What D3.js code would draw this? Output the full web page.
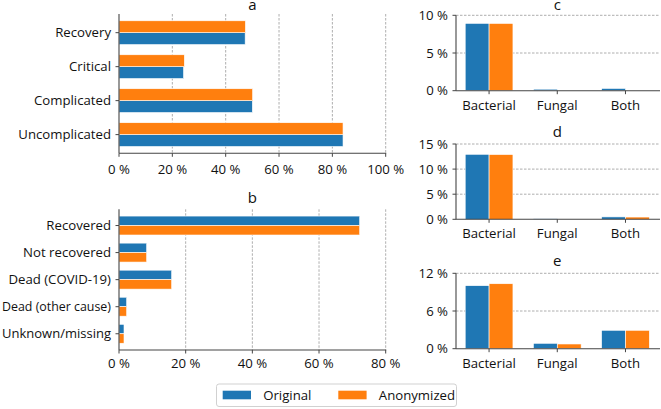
<!DOCTYPE html>
<html><head><meta charset="utf-8">
<script src="https://cdn.jsdelivr.net/npm/d3@7"></script>
<style>
html,body{margin:0;padding:0;background:#fff;}
svg{display:block;}
text{font-family:"Open Sans",Lato,sans-serif;fill:#111;}
</style></head>
<body>
<svg id="chart" width="661" height="409"></svg>
<script>
// ---- data ----
const seriesNames = ["Original", "Anonymized"];
const colors = ["#1f77b4", "#ff7f0e"];

const aCategories = ["Uncomplicated", "Complicated", "Critical", "Recovery"]; // bottom -> top
const aOriginal   = [0.84, 0.50, 0.242, 0.473];
const aAnonymized = [0.84, 0.501, 0.245, 0.474];
const aTicks = [0, 0.2, 0.4, 0.6, 0.8, 1.0];

const bCategories = ["Recovered", "Not recovered", "Dead (COVID-19)", "Dead (other cause)", "Unknown/missing"]; // top -> bottom
const bOriginal   = [0.722, 0.083, 0.158, 0.023, 0.015];
const bAnonymized = [0.722, 0.083, 0.158, 0.023, 0.015];
const bTicks = [0, 0.2, 0.4, 0.6, 0.8];

const infCategories = ["Bacterial", "Fungal", "Both"];
const cOriginal   = [8.93, 0.2, 0.3];
const cAnonymized = [8.92, 0.0, 0.0];
const cTicks = [0, 5, 10];
const dOriginal   = [12.95, 0.1, 0.48];
const dAnonymized = [12.9, 0.0, 0.45];
const dTicks = [0, 5, 10, 15];
const eOriginal   = [10.03, 0.86, 2.93];
const eAnonymized = [10.34, 0.75, 2.93];
const eTicks = [0, 6, 12];

// ---- drawing ----
const svg = d3.select("#chart");
const FS = 13.2;
const TFS = 15;
const axisColor = "#444";
const gridColor = "#999";
const pct = d => Math.round(d * 100) + " %";

function hbar(opts) {
  const {cats, vals, ticks, xDomain, x0, x1, yTop, yBot, yDomain, order, title, titleBase, tickLabelY, maxLabelW} = opts;
  const g = svg.append("g");
  const x = d3.scaleLinear().domain(xDomain).range([x0, x1]);
  const y = d3.scaleLinear().domain(yDomain).range([yBot, yTop]);
  g.selectAll("line.grid").data(ticks.filter(t => t > 0)).join("line")
    .attr("x1", d => x(d)).attr("x2", d => x(d))
    .attr("y1", yTop).attr("y2", yBot)
    .attr("stroke", gridColor).attr("stroke-width", 0.8).attr("stroke-dasharray", "2.5,1.5");
  const h = Math.abs(y(0.35) - y(0));
  vals.forEach((arr, si) => {
    g.selectAll("rect.s" + si).data(arr).join("rect")
      .attr("x", x(0))
      .attr("width", d => x(d) - x(0))
      .attr("y", (d, i) => order[si] === "top" ? y(i) - h : y(i))
      .attr("height", h)
      .attr("fill", colors[si])
      .attr("stroke", "#fff").attr("stroke-width", 0.6);
  });
  g.append("line").attr("x1", x0).attr("x2", x0).attr("y1", yTop).attr("y2", yBot)
    .attr("stroke", axisColor).attr("stroke-width", 1.1);
  g.append("line").attr("x1", x0).attr("x2", x1 + 0.5).attr("y1", yBot).attr("y2", yBot)
    .attr("stroke", axisColor).attr("stroke-width", 1.1);
  cats.forEach((c, i) => {
    g.append("line").attr("x1", x0 - 3.5).attr("x2", x0).attr("y1", y(i)).attr("y2", y(i))
      .attr("stroke", axisColor).attr("stroke-width", 1);
    const t = g.append("text").attr("x", x0 - 8).attr("y", y(i)).attr("dy", "0.35em")
      .attr("text-anchor", "end").attr("font-size", FS).text(c);
    const w = t.node().getComputedTextLength();
    if (w > maxLabelW) t.attr("textLength", maxLabelW).attr("lengthAdjust", "spacingAndGlyphs");
  });
  ticks.forEach(t => {
    g.append("line").attr("x1", x(t)).attr("x2", x(t)).attr("y1", yBot).attr("y2", yBot + 3.5)
      .attr("stroke", axisColor).attr("stroke-width", 1);
    g.append("text").attr("x", x(t)).attr("y", tickLabelY).attr("dy", "0.35em")
      .attr("text-anchor", "middle").attr("font-size", FS).text(pct(t));
  });
  g.append("text").attr("x", (x0 + x1) / 2).attr("y", titleBase)
    .attr("text-anchor", "middle").attr("font-size", TFS).text(title);
}

hbar({cats: aCategories, vals: [aOriginal, aAnonymized], ticks: aTicks, xDomain: [0, 1],
  x0: 119, x1: 385.7, yTop: 14, yBot: 153.3, yDomain: [-0.55, 3.55],
  order: ["bottom", "top"], title: "a", titleBase: 10, tickLabelY: 169, maxLabelW: 108});

hbar({cats: bCategories, vals: [bOriginal, bAnonymized], ticks: bTicks, xDomain: [0, 0.8],
  x0: 119, x1: 385.7, yTop: 209.3, yBot: 350, yDomain: [4.6, -0.6],
  order: ["top", "bottom"], title: "b", titleBase: 203, tickLabelY: 363, maxLabelW: 109});

function vbar(opts) {
  const {orig, anon, ticks, yMax, yTop, yBot, title, titleBase} = opts;
  const g = svg.append("g");
  const x0 = 456, x1 = 660;
  const x = d3.scaleLinear().domain([-0.485, 2.485]).range([x0, x0 + 2.97 * 68.2]);
  const y = d3.scaleLinear().domain([0, yMax]).range([yBot, yTop]);
  g.selectAll("line.grid").data(ticks.filter(t => t > 0)).join("line")
    .attr("x1", x0).attr("x2", x1)
    .attr("y1", d => y(d)).attr("y2", d => y(d))
    .attr("stroke", gridColor).attr("stroke-width", 0.8).attr("stroke-dasharray", "2.5,1.5");
  [orig, anon].forEach((arr, si) => {
    g.selectAll("rect.s" + si).data(arr).join("rect")
      .attr("x", (d, i) => si === 0 ? x(i - 0.35) : x(i))
      .attr("width", x(0.35) - x(0))
      .attr("y", d => y(d))
      .attr("height", d => y(0) - y(d))
      .attr("fill", colors[si])
      .attr("stroke", "#fff").attr("stroke-width", d => d > 0 ? 0.6 : 0);
  });
  g.append("line").attr("x1", x0).attr("x2", x0).attr("y1", yTop).attr("y2", yBot)
    .attr("stroke", axisColor).attr("stroke-width", 1.1);
  g.append("line").attr("x1", x0).attr("x2", x1).attr("y1", yBot).attr("y2", yBot)
    .attr("stroke", axisColor).attr("stroke-width", 1.1);
  ticks.forEach(t => {
    g.append("line").attr("x1", x0 - 3.5).attr("x2", x0).attr("y1", y(t)).attr("y2", y(t))
      .attr("stroke", axisColor).attr("stroke-width", 1);
    g.append("text").attr("x", x0 - 8).attr("y", y(t)).attr("dy", "0.35em")
      .attr("text-anchor", "end").attr("font-size", FS).text(t + " %");
  });
  infCategories.forEach((c, i) => {
    g.append("line").attr("x1", x(i)).attr("x2", x(i)).attr("y1", yBot).attr("y2", yBot + 3.5)
      .attr("stroke", axisColor).attr("stroke-width", 1);
    g.append("text").attr("x", x(i)).attr("y", yBot + 14.5).attr("dy", "0.35em")
      .attr("text-anchor", "middle").attr("font-size", FS).text(c);
  });
  g.append("text").attr("x", x(1)).attr("y", titleBase)
    .attr("text-anchor", "middle").attr("font-size", TFS).text(title);
}

vbar({orig: cOriginal, anon: cAnonymized, ticks: cTicks, yMax: 10, yTop: 15.3, yBot: 90.7, title: "c", titleBase: 10});
vbar({orig: dOriginal, anon: dAnonymized, ticks: dTicks, yMax: 15, yTop: 144, yBot: 219.3, title: "d", titleBase: 136.5});
vbar({orig: eOriginal, anon: eAnonymized, ticks: eTicks, yMax: 12, yTop: 273.3, yBot: 348.7, title: "e", titleBase: 266});

// legend
const lg = svg.append("g");
lg.append("rect").attr("x", 216.5).attr("y", 384).attr("width", 240).attr("height", 22.5)
  .attr("rx", 2.5).attr("fill", "#fff").attr("stroke", "#ccc").attr("stroke-width", 0.9);
const legX = [222.7, 338.3];
seriesNames.forEach((n, i) => {
  lg.append("rect").attr("x", legX[i]).attr("y", 390.7).attr("width", 28.3).attr("height", 8.6)
    .attr("fill", colors[i]);
  lg.append("text").attr("x", legX[i] + 40.5).attr("y", 395).attr("dy", "0.35em")
    .attr("font-size", FS).text(n);
});
</script>
</body></html>
